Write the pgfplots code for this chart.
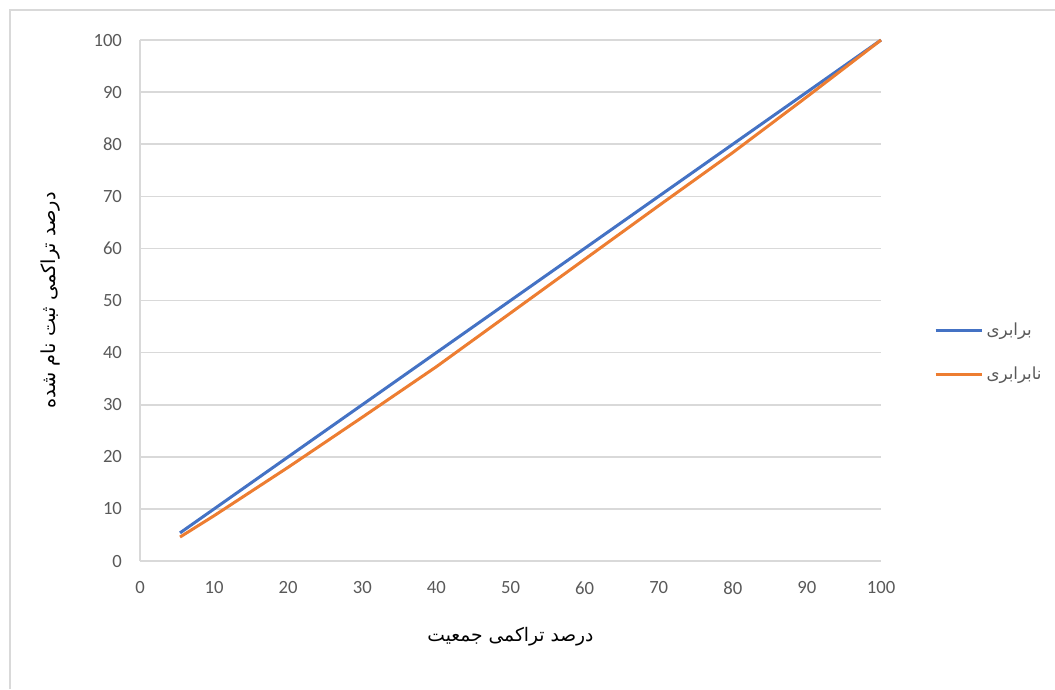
\documentclass[border=0pt]{standalone}
\usepackage{fontspec}
\setmainfont{Carlito}
\newfontfamily\arabicfont[Script=Arabic]{DejaVu Sans}
\usepackage{pgfplots}
\pgfplotsset{compat=1.18}
\TeXXeTstate=1
\definecolor{eqblue}{HTML}{4472C4}
\definecolor{ineqorange}{HTML}{ED7D31}
\definecolor{gridgray}{HTML}{D9D9D9}
\definecolor{ticktext}{HTML}{595959}
\begin{document}
\begin{tikzpicture}
\begin{axis}[
  scale only axis, width=555.75pt, height=390.75pt,
  xmin=0, xmax=100, ymin=0, ymax=100,
  xtick={0,10,...,100}, ytick={0,10,...,100},
  axis x line*=bottom, axis y line*=left,
  axis line style={gridgray, line width=1.2pt, -},
  ymajorgrids, grid style={gridgray, line width=1.2pt},
  major tick length=0pt,
  clip=false,
  /pgf/number format/assume math mode=true,
  tick label style={font=\fontsize{14}{16}\selectfont, text=ticktext},
  xticklabel style={yshift=-12pt},
  yticklabel style={xshift=-10pt},
  xlabel={\arabicfont\fontsize{14}{16}\selectfont\beginR درصد تراکمی جمعیت\endR},
  ylabel={\arabicfont\fontsize{14.5}{16}\selectfont\beginR درصد تراکمی ثبت نام شده\endR},
  xlabel style={yshift=-18pt},
  ylabel style={yshift=18pt},
  legend style={at={(1.066,0.40)}, anchor=west, draw=none, fill=none,
    font=\arabicfont\fontsize{12.5}{14}\selectfont, text=ticktext, row sep=18pt},
  legend cell align=left,
  legend image code/.code={\draw[#1, line width=2.25pt] (0pt,0pt) -- (35pt,0pt);},
]
\addplot[eqblue, line width=2.25pt] coordinates {
(5.4,5.4) (10,10) (20,20) (30,30) (40,40) (50,50) (60,60) (70,70) (80,80) (90,90) (100,100)
};
\addlegendentry{\beginR برابری\endR}
\addplot[ineqorange, line width=2.25pt] coordinates {
(5.4,4.6) (10,8.7) (20,18.0) (30,27.6) (40,37.3) (50,47.6) (60,57.9) (70,68.2) (80,78.4) (90,89.1) (100,100)
};
\addlegendentry{\beginR نابرابری\endR}
\draw[gridgray, line width=1.2pt] (axis cs:-17.54,-24.57) -- (axis cs:-17.54,105.76) -- (axis cs:123.48,105.76);
\coordinate (bbsw) at (axis cs:-18.893,-24.568);
\coordinate (bbne) at (axis cs:123.48,107.68);
\end{axis}
\pgfresetboundingbox
\path[use as bounding box] (bbsw) rectangle (bbne);
\end{tikzpicture}
\end{document}
